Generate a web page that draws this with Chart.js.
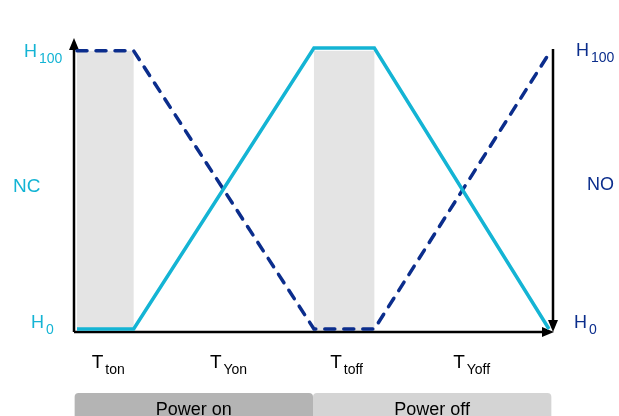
<!DOCTYPE html>
<html>
<head>
<meta charset="utf-8">
<script src="https://cdn.jsdelivr.net/npm/chart.js@4.4.1/dist/chart.umd.min.js"></script>
<style>
  body { margin: 0; background: #fff; }
</style>
</head>
<body>
<canvas id="js-chart" width="619" height="416"></canvas>
<script>
// time axis 0..100, level 0 (H0) .. 100 (H100)
const timeX = [0, 12, 50.2, 63, 100]
const ncLevel = [0, 0, 100, 100, 0]
const noTime = [0, 12, 50.2, 63, 100]
const noLevel = [99, 99, 0, 0, 98]

// grey hold bands (start, end on time axis)
const bandStart = [0, 50.2]
const bandEnd = [12, 63]
const bandTop = 99

// time labels under the axis
const tickMain = ['T', 'T', 'T', 'T']
const tickSub = ['ton', 'Yon', 'toff', 'Yoff']
const tickPos = [6.5, 32, 57, 83.5]

// power phases
const phaseLabels = ['Power on', 'Power off']
const phaseStart = [-0.5, 50]
const phaseEnd = [50, 100.5]

const CYAN = '#14b4d4'
const NAVY = '#0b2d8c'
const FONT = "Arial, 'Liberation Sans', sans-serif"

function subText(ctx, main, sub, x, y, color, center, size) {
  size = size || 19
  ctx.font = size + 'px ' + FONT
  const w1 = ctx.measureText(main).width
  ctx.font = '14px ' + FONT
  const w2 = ctx.measureText(sub).width
  let left = center ? x - (w1 + w2 + 1) / 2 : x
  ctx.fillStyle = color
  ctx.textAlign = 'left'
  ctx.textBaseline = 'alphabetic'
  ctx.font = size + 'px ' + FONT
  ctx.fillText(main, left, y)
  ctx.font = '14px ' + FONT
  ctx.fillText(sub, left + w1 + 2, y + 6)
}

function arrow(ctx, tx, ty, dir) {
  ctx.beginPath()
  if (dir === 'up') { ctx.moveTo(tx, ty); ctx.lineTo(tx - 5, ty + 12); ctx.lineTo(tx + 5, ty + 12) }
  if (dir === 'down') { ctx.moveTo(tx, ty); ctx.lineTo(tx - 5, ty - 12); ctx.lineTo(tx + 5, ty - 12) }
  if (dir === 'right') { ctx.moveTo(tx, ty); ctx.lineTo(tx - 12, ty - 5); ctx.lineTo(tx - 12, ty + 5) }
  ctx.closePath()
  ctx.fill()
}

const decor = {
  id: 'decor',
  beforeDatasetsDraw(chart) {
    const { ctx, chartArea, scales } = chart
    const x = scales.x, y = scales.y
    ctx.save()
    // bands
    ctx.fillStyle = '#e4e4e4'
    for (let i = 0; i < bandStart.length; i++) {
      const x0 = x.getPixelForValue(bandStart[i])
      const x1 = x.getPixelForValue(bandEnd[i])
      const yt = y.getPixelForValue(bandTop)
      ctx.fillRect(x0, yt, x1 - x0, chartArea.bottom + 2 - yt)
    }
    // axes
    const ax = chartArea.left - 3
    const ay = chartArea.bottom + 3
    const rx = chartArea.right + 4
    ctx.strokeStyle = '#000'
    ctx.fillStyle = '#000'
    ctx.lineWidth = 2.5
    ctx.beginPath()
    ctx.moveTo(ax, ay); ctx.lineTo(ax, 46)
    ctx.moveTo(ax, ay); ctx.lineTo(rx - 4, ay)
    ctx.moveTo(rx, 49); ctx.lineTo(rx, ay - 6)
    ctx.stroke()
    arrow(ctx, ax, 38, 'up')
    arrow(ctx, rx + 1, ay, 'right')
    arrow(ctx, rx, ay, 'down')
    ctx.restore()
  },
  afterDraw(chart) {
    const { ctx, scales } = chart
    const x = scales.x
    ctx.save()
    // side labels
    subText(ctx, 'H', '100', 24, 57, CYAN, false, 18)
    subText(ctx, 'H', '0', 31, 328, CYAN, false, 18)
    ctx.font = '19px ' + FONT
    ctx.fillStyle = CYAN
    ctx.fillText('NC', 13, 192)
    subText(ctx, 'H', '100', 576, 56, NAVY, false, 18)
    subText(ctx, 'H', '0', 574, 328, NAVY, false, 18)
    ctx.font = '18px ' + FONT
    ctx.fillStyle = NAVY
    ctx.fillText('NO', 587, 190)
    // time ticks
    for (let i = 0; i < tickMain.length; i++) {
      subText(ctx, tickMain[i], tickSub[i], x.getPixelForValue(tickPos[i]), 368, '#000', true)
    }
    // phase bars
    const colors = ['#b4b4b4', '#d4d4d4']
    for (let i = 0; i < phaseLabels.length; i++) {
      const x0 = x.getPixelForValue(phaseStart[i])
      const x1 = x.getPixelForValue(phaseEnd[i])
      ctx.fillStyle = colors[i]
      ctx.beginPath()
      ctx.roundRect(x0, 393, x1 - x0, 30, 4)
      ctx.fill()
      ctx.fillStyle = '#000'
      ctx.font = '18px ' + FONT
      ctx.textAlign = 'center'
      ctx.fillText(phaseLabels[i], (x0 + x1) / 2, 415)
      ctx.textAlign = 'left'
    }
    ctx.restore()
  }
}

const chartContext = document.getElementById('js-chart').getContext('2d')

const newChart = new Chart(chartContext, {
  type: 'line',
  data: {
    datasets: [
      {
        label: 'NC',
        data: timeX.map((t, i) => ({ x: t, y: ncLevel[i] })),
        borderColor: CYAN,
        borderWidth: 3.5,
        pointRadius: 0,
        tension: 0,
        clip: 8,
      },
      {
        label: 'NO',
        data: noTime.map((t, i) => ({ x: t, y: noLevel[i] })),
        borderColor: NAVY,
        borderWidth: 3.5,
        borderDash: [10, 9],
        borderCapStyle: 'round',
        pointRadius: 0,
        tension: 0,
        clip: 8,
      },
    ],
  },
  options: {
    responsive: false,
    animation: false,
    layout: { padding: { left: 77, right: 70, top: 48, bottom: 87 } },
    scales: {
      x: { type: 'linear', min: 0, max: 100, display: false },
      y: { min: 0, max: 100, display: false },
    },
    plugins: {
      legend: { display: false },
      tooltip: { enabled: false },
    },
  },
  plugins: [decor],
})
</script>
</body>
</html>
